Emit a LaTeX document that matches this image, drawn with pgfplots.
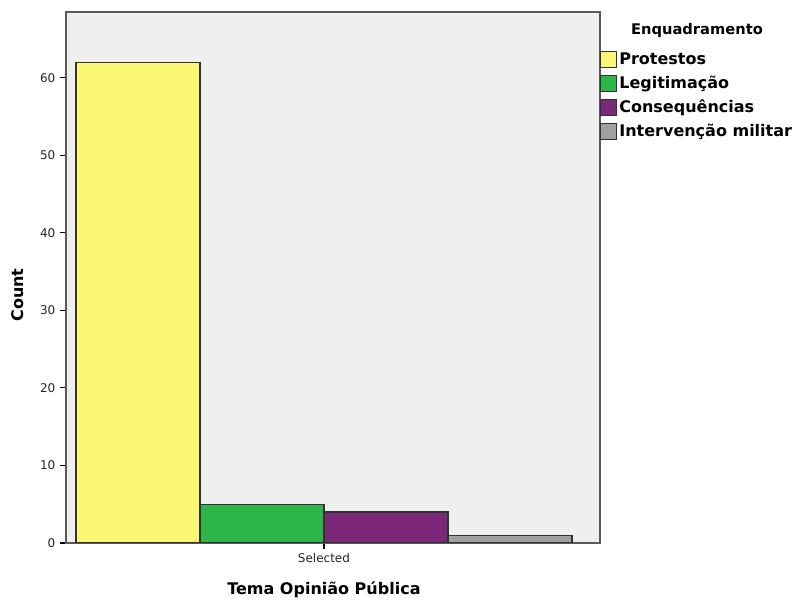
\documentclass[border=0pt]{standalone}
\usepackage{pgfplots}
\pgfplotsset{compat=1.18}
\usepackage{fontspec}
\setmainfont{DejaVu Sans}
\definecolor{bgc}{RGB}{239,239,239}
\definecolor{axc}{RGB}{90,90,90}
\definecolor{bord}{RGB}{50,50,50}
\definecolor{yel}{RGB}{249,247,115}
\definecolor{grn}{RGB}{45,183,72}
\definecolor{pur}{RGB}{123,40,123}
\definecolor{gry}{RGB}{160,160,160}
\begin{document}
\begin{tikzpicture}
\useasboundingbox (0pt,0pt) rectangle (595.5pt,450pt);
\begin{axis}[
  at={(49.5pt,42.75pt)}, anchor=south west,
  scale only axis, width=400.5pt, height=398.25pt,
  xmin=-0.0806, xmax=4.226, ymin=0, ymax=68.5,
  axis background/.style={fill=bgc},
  axis line style={draw=axc, line width=1.4pt},
  tick pos=left, tick align=outside,
  major tick length=4.5pt,
  tick style={black, line width=0.8pt},
  ytick={0,10,...,60},
  xtick={2}, xticklabels={Selected},
  /pgf/number format/assume math mode=true,
  tick label style={font=\fontsize{9}{10}\selectfont, text=black!85},
  ylabel={Count}, xlabel={Tema Opinião Pública},
  label style={font=\bfseries\fontsize{12}{14}\selectfont},
  ylabel style={at={(axis description cs:-0.09,0.467)}, anchor=center},
  xlabel style={at={(axis description cs:0.483,-0.0885)}, anchor=center},
  legend style={at={(1,0.93)}, anchor=north west, draw=none, fill=none,
    font=\bfseries\fontsize{12}{14}\selectfont, inner xsep=0pt, inner ysep=0pt,
    row sep=3pt, nodes={inner xsep=1.5pt, inner ysep=1pt, text height=10pt, text depth=3pt}},
  legend cell align=left,
  legend image code/.code={\draw[#1, line width=0.8pt] (0pt,-6pt) rectangle (12pt,6pt);},
]
\addplot[ybar, bar width=1, bar shift=0pt, fill=yel, draw=bord, line width=0.9pt] coordinates {(0.5,62)};
\addplot[ybar, bar width=1, bar shift=0pt, fill=grn, draw=bord, line width=0.9pt] coordinates {(1.5,5)};
\addplot[ybar, bar width=1, bar shift=0pt, fill=pur, draw=bord, line width=0.9pt] coordinates {(2.5,4)};
\addplot[ybar, bar width=1, bar shift=0pt, fill=gry, draw=bord, line width=0.9pt] coordinates {(3.5,1)};
\legend{Protestos, Legitimação, Consequências, Intervenção militar}
\end{axis}
\node[font=\bfseries\fontsize{11}{12}\selectfont] at (522.75pt,427.5pt) {Enquadramento};
\end{tikzpicture}
\end{document}
